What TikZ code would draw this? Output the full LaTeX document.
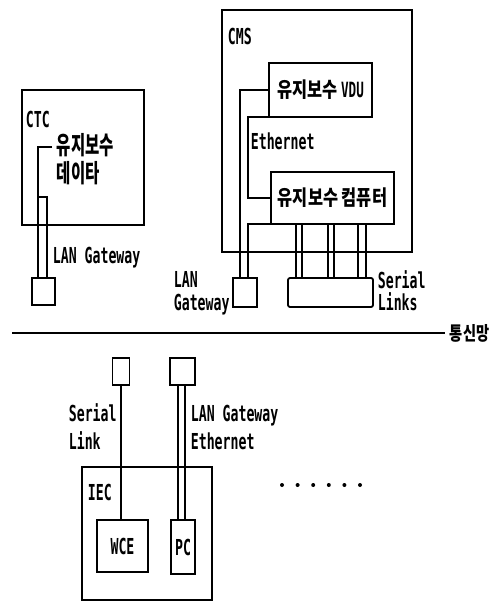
\documentclass[tikz,border=0pt]{standalone}
\usepackage{fontspec}
\newfontfamily\lblfont{DejaVu Sans Mono}[FakeStretch=0.6]
\newfontfamily\kofont{Noto Sans CJK KR}[FakeStretch=0.78]
\newfontfamily\kofontb{Noto Sans CJK KR}[FakeStretch=0.62]
\newfontfamily\kofontc{Noto Sans CJK KR}[FakeStretch=0.75]
\begin{document}
\begin{tikzpicture}[x=1pt,y=-1pt,line width=1.8pt,
  box/.style={draw,rectangle,inner sep=0pt,outer sep=0pt},
  lbl/.style={inner sep=0pt,anchor=west,text height=16pt,text depth=0pt,font=\lblfont\bfseries\fontsize{22}{25}\selectfont},
  ko/.style={inner sep=0pt,font=\kofont\bfseries\fontsize{21}{24}\selectfont}]
\useasboundingbox (0,0) rectangle (496,609);
% CTC
\node[box,minimum width=122pt,minimum height=135pt] (ctc) at (83,157.5) {};
\node[lbl] (ctct) at (25,120) {CTC};
\node[inner sep=0pt,anchor=west,align=left,font=\kofontb\bfseries\fontsize{25}{28}\selectfont] (ctcdata) at (56,159) {유지보수\\데이타};
\node[box,minimum width=23pt,minimum height=27pt] (ctcgw) at (43.5,291.5) {};
\node[lbl] (ctclan) at (52,255) {LAN Gateway};
\coordinate (c1) at (52,147);
\coordinate (c2) at (38,197);
\draw (c1) -| ([xshift=6pt]ctcgw.north west);
\draw (c2) -| ([xshift=15pt]ctcgw.north west);
% CMS
\node[box,minimum width=190pt,minimum height=242pt] (cms) at (317,131) {};
\node[lbl] (cmst) at (227,37) {CMS};
\node[box,ko,minimum width=103pt,minimum height=54pt] (vdu) at (320.5,90) {유지보수 {\lblfont\bfseries VDU}};
\node[box,ko,minimum width=123pt,minimum height=52pt] (comp) at (332.5,198) {유지보수 컴퓨터};
\node[lbl] (eth) at (250,142) {Ethernet};
\node[box,minimum width=24pt,minimum height=29pt] (cmsgw) at (245,292.5) {};
\node[box,rounded corners=2pt,minimum width=85pt,minimum height=29pt] (serial) at (330.5,292.5) {};
\node[lbl] (lan2) at (173,279) {LAN};
\node[lbl] (gw2) at (173,302) {Gateway};
\node[lbl] (ser2) at (377,280) {Serial};
\node[lbl] (links) at (377,302) {Links};
\draw (vdu.west) -| ([xshift=7pt]cmsgw.north west);
\draw (comp.south west) -| ([xshift=15pt]cmsgw.north west);
\draw (vdu.south west) -- ++(-21,0) |- (comp.west);
\foreach \o in {8,14,40,46,70,78}
  \draw ([xshift=\o pt]serial.north west) -- ([xshift=\o pt]serial.north west |- comp.south);
% network
\coordinate (n1) at (12,333);
\node[inner sep=0pt,anchor=west,font=\kofontc\bfseries\fontsize{19}{20}\selectfont] (net) at (449,333) {통신망};
\draw[line width=2.5pt] (n1) -- ([xshift=-4pt]net.west);
% IEC
\node[box,minimum width=17pt,minimum height=27pt] (b1) at (121,371.5) {};
\node[box,minimum width=25pt,minimum height=27pt] (b2) at (182.5,371.5) {};
\node[box,minimum width=130pt,minimum height=133pt] (iec) at (147,533.5) {};
\node[lbl] (iect) at (87,492) {IEC};
\node[box,lbl,anchor=center,minimum width=51pt,minimum height=52pt] (wce) at (122.5,546) {WCE};
\node[box,lbl,anchor=center,minimum width=24pt,minimum height=54pt] (pc) at (183,547) {PC};
\draw (b1.south) -- (b1.south |- wce.north);
\foreach \o in {8,15}
  \draw ([xshift=\o pt]b2.south west) -- ([xshift=\o pt]b2.south west |- pc.north);
\node[lbl] (ser3) at (68,413) {Serial};
\node[lbl] (link3) at (68,441) {Link};
\node[lbl] (lan3) at (190,413) {LAN Gateway};
\node[lbl] (eth3) at (190,441) {Ethernet};
\foreach \i in {0,...,5}
  \fill (282+15.6*\i,485) circle (2pt);
\end{tikzpicture}
\end{document}
